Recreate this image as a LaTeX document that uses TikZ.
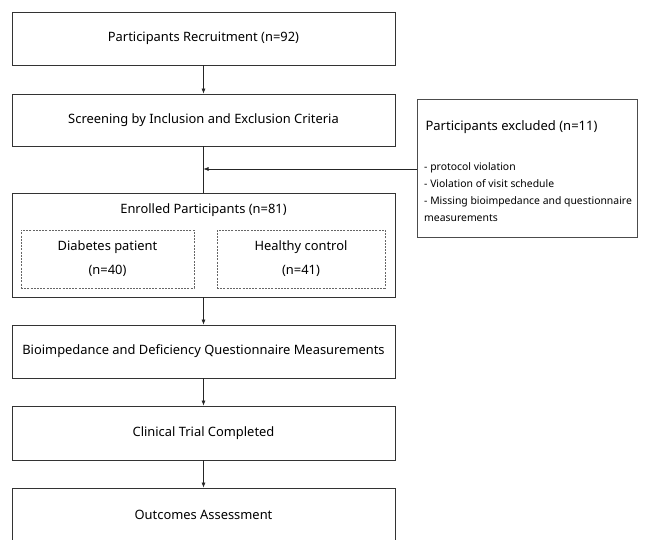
\documentclass[tikz,border=0pt]{standalone}
\usepackage{fontspec}
\setmainfont{Noto Sans}
\usetikzlibrary{arrows.meta}
\tikzset{
    stage/.style={draw=black!80, line width=0.8pt, minimum width=383pt, minimum height=53pt,
        inner sep=0pt, font=\fontsize{12.9}{15}\selectfont},
    group/.style={draw=black!60, line width=0.8pt, dash pattern=on 2pt off 1.2pt,
        minimum height=58pt, inner sep=0pt, align=center, font=\fontsize{12.9}{24}\selectfont},
    flow/.style={draw=black!85, line width=0.6pt, -{Latex[length=5pt,width=4pt]}}
}
\begin{document}
\begin{tikzpicture}[x=1pt,y=1pt]
    \useasboundingbox (0,0) rectangle (645,540);
    % main stages
    \node [stage] (recruit) at (203.5,501.5) {Participants Recruitment (n=92)};
    \node [stage, minimum height=52pt] (screen) at (203.5,420) {Screening by Inclusion and Exclusion Criteria};
    \node [stage, minimum height=104pt] (enrol) at (203.5,295) {};
    \node [font=\fontsize{12.9}{15}\selectfont] (enroltext) at (203.5,330) {Enrolled Participants (n=81)};
    \node [group, minimum width=173pt] (diab) at (107.5,281) {Diabetes patient\\(n=40)};
    \node [group, minimum width=168pt] (healthy) at (301,281) {Healthy control\\(n=41)};
    \node [stage] (bioimp) at (203.5,188.5) {Bioimpedance and Deficiency Questionnaire Measurements};
    \node [stage, minimum height=54pt] (trial) at (203.5,107) {Clinical Trial Completed};
    \node [stage] (outcome) at (203.5,25.5) {Outcomes Assessment};
    % exclusions
    \node [draw=black!70, line width=1pt, minimum width=220pt, minimum height=138pt, inner sep=0pt] (excl) at (527,371) {};
    \node [anchor=west, font=\fontsize{13}{16}\selectfont] (excltitle) at (422,413) {Participants excluded (n=11)};
    \node [anchor=north west, align=left, inner sep=0pt, font=\fontsize{10.4}{17}\selectfont] (excllist) at (424,378)
        {- protocol violation\\- Violation of visit schedule\\- Missing bioimpedance and questionnaire\\measurements};
    % arrows
    \draw [flow] (recruit) -- (screen);
    \draw [draw=black!85, line width=0.6pt] (screen) -- (enrol);
    \draw [flow] (excl.west) -- (screen.south |- excl.west);
    \draw [flow] (enrol) -- (bioimp);
    \draw [flow] (bioimp) -- (trial);
    \draw [flow] (trial) -- (outcome);
\end{tikzpicture}
\end{document}
